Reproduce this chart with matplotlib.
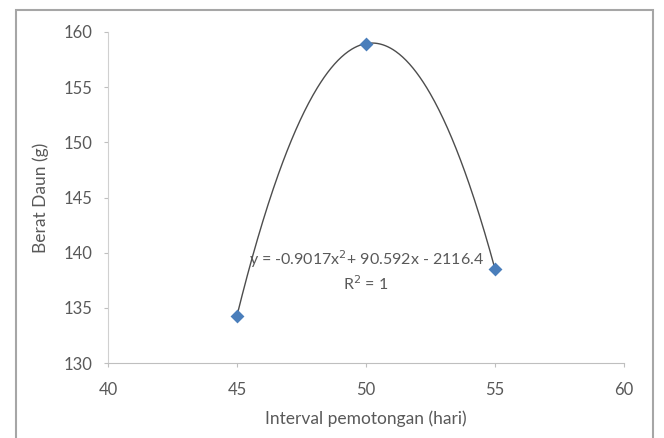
import numpy as np
import matplotlib
matplotlib.use("Agg")
import matplotlib.pyplot as plt
from matplotlib.patches import Rectangle

# Data: cutting interval (days) vs. leaf weight (g)
interval = [45, 50, 55]
berat = [134.3, 158.95, 138.5]

# Quadratic trendline coefficients
a2, a1, a0 = -0.9017, 90.592, -2116.4

x_ticks = [40, 45, 50, 55, 60]
y_ticks = [130, 135, 140, 145, 150, 155, 160]

plt.rcParams['font.family'] = ['Lato', 'DejaVu Sans']
txt = '#595959'

fig = plt.figure(figsize=(6.64, 4.38), dpi=100)
ax = fig.add_axes([108/664, 75/438, (624-108)/664, (406-75)/438])

# Outer chart border
fig.patches.append(Rectangle((16/664, -0.05), (653-16)/664, (428/438)+0.05,
                             transform=fig.transFigure, fill=False,
                             edgecolor='#a6a6a6', linewidth=1.5, clip_on=False))

xs = np.linspace(45, 55, 300)
ax.plot(xs, a2*xs**2 + a1*xs + a0, color='#4d4d4d', linewidth=1.0, zorder=2)
ax.scatter(interval, berat, marker='D', s=50, color='#4a7ebb', zorder=3, linewidths=0)

ax.set_xlim(40, 60)
ax.set_ylim(130, 160)
ax.set_xticks(x_ticks)
ax.set_yticks(y_ticks)
for s in ['top', 'right']:
    ax.spines[s].set_visible(False)
ax.spines['left'].set_color('#d0d0d0')
ax.spines['bottom'].set_color('#bfbfbf')
ax.tick_params(axis='both', colors='#bfbfbf', labelcolor=txt, labelsize=12, length=3, width=0.8)
ax.tick_params(axis='y', pad=8)
ax.tick_params(axis='x', pad=10.5)

ax.set_xlabel('Interval pemotongan (hari)', color=txt, fontsize=12.5, labelpad=9)
ax.set_ylabel('Berat Daun (g)', color=txt, fontsize=12.5, labelpad=11)

ax.text(50, 139.4, 'y = -0.9017x$^2$+ 90.592x - 2116.4', ha='center', va='center',
        color=txt, fontsize=11.5)
ax.text(50, 137.2, 'R$^2$ = 1', ha='center', va='center', color=txt, fontsize=11.5)

fig.savefig('out.png', dpi=100)
